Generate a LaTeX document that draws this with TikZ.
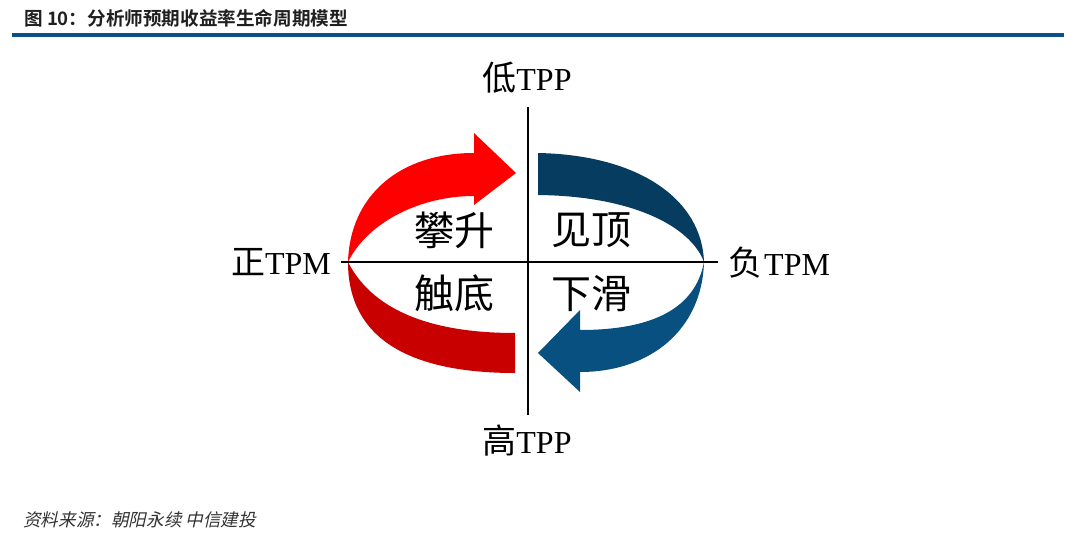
\documentclass[tikz,border=0pt]{standalone}
\usepackage{fontspec}
\setmainfont{Liberation Serif}
\newfontfamily\cjk{Noto Sans CJK SC}
\newfontfamily\cjkb{Noto Sans CJK SC Bold}
\newfontfamily\cjkit[FakeSlant=0.22]{Noto Sans CJK SC}
\definecolor{rulebl}{RGB}{11,79,138}
\definecolor{redhi}{RGB}{255,0,0}
\definecolor{redlo}{RGB}{200,0,0}
\definecolor{bluehi}{RGB}{6,60,96}
\definecolor{bluelo}{RGB}{8,80,128}
\tikzset{
  axislab/.style={inner sep=0pt, font=\fontsize{32}{34}\selectfont},
  quadlab/.style={inner sep=0pt, font=\cjk\fontsize{40}{42}\selectfont},
  axisline/.style={line width=1.8pt, black},
}
\newcommand{\axcjk}[1]{{\cjk\fontsize{34}{36}\selectfont #1}}
\begin{document}
\begin{tikzpicture}[x=1pt,y=-1pt]
\useasboundingbox (0,0) rectangle (1080,540);
\fill[white] (0,0) rectangle (1080,540);
% title
\node[anchor=west, inner sep=0pt, text=black!88] (title) at (24,18)
  {\cjkb\fontsize{18.6}{20}\selectfont 图 10：分析师预期收益率生命周期模型};
\coordinate (rl) at (12,35.3);
\coordinate (rr) at (1064,35.3);
\draw[rulebl, line width=4pt] (rl) -- (rr);
% red upper arrow
\fill[redhi] (348,262) .. controls (350,195) and (400,153) .. (474,153)
  -- (474,133) -- (516,173) -- (474,205) -- (474,196)
  .. controls (420,196) and (368,222) .. (348,262) -- cycle;
% red lower band
\fill[redlo] (348,262) .. controls (348,345) and (420,373) .. (515,373)
  -- (515,333) .. controls (440,333) and (375,315) .. (348,262) -- cycle;
% blue upper band
\fill[bluehi] (538,153) .. controls (640,155) and (702,200) .. (704,262)
  .. controls (690,225) and (630,196) .. (538,195) -- cycle;
% blue lower arrow
\fill[bluelo] (704,262) .. controls (702,330) and (650,372) .. (580,372)
  -- (580,392) -- (538,353) -- (580,310) -- (580,330)
  .. controls (650,330) and (695,310) .. (704,262) -- cycle;
% axis labels
\node[axislab] (top) at (527,78) {\axcjk{低}TPP};
\node[axislab] (bot) at (527,441) {\axcjk{高}TPP};
\node[axislab, anchor=east] (left) at (331,262) {\axcjk{正}TPM};
\node[axislab, anchor=west] (right) at (728,263) {\axcjk{负}\hspace{2pt}TPM};
% axes
\coordinate (vt) at (528,107);
\coordinate (vb) at (528,415);
\coordinate (hl) at (341,262);
\coordinate (hr) at (718,262);
\draw[axisline] (vt) -- (vb);
\draw[axisline] (hl) -- (hr);
% quadrant labels
\node[quadlab] (q1) at (454,230) {攀升};
\node[quadlab] (q2) at (591,230) {见顶};
\node[quadlab] (q3) at (454,293) {触底};
\node[quadlab] (q4) at (591,294) {下滑};
% footer
\node[anchor=west, inner sep=0pt, text=black!80] (src) at (23,520)
  {\cjkit\fontsize{17.6}{19}\selectfont 资料来源：朝阳永续 中信建投};
\end{tikzpicture}
\end{document}
